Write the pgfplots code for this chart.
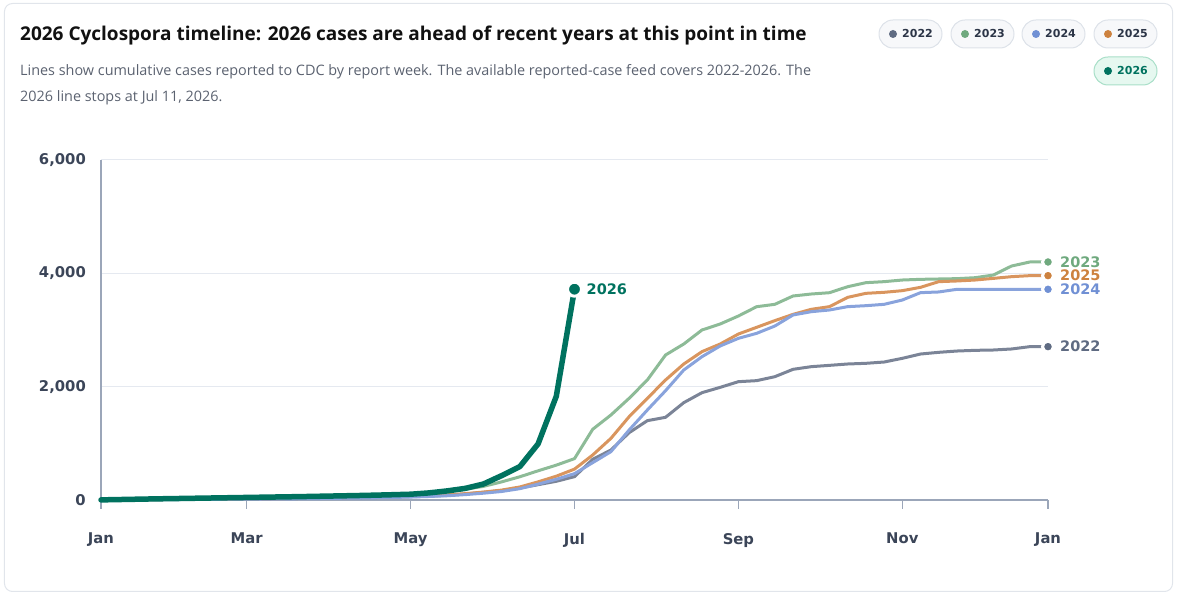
\documentclass[border=0pt]{standalone}
\usepackage{pgfplots}
\pgfplotsset{compat=1.18}
\usepackage{fontspec}
\setmainfont{Open Sans}
\newfontfamily\numfont{DejaVu Sans}

\definecolor{cardline}{HTML}{E1E5EB}
\definecolor{titlecol}{HTML}{111111}
\definecolor{subcol}{HTML}{5B6270}
\definecolor{axcol}{HTML}{9BA6B9}
\definecolor{gridcol}{HTML}{E5E9F0}
\definecolor{tickcol}{HTML}{3B4558}
\definecolor{pillbg}{HTML}{F7F8FA}
\definecolor{pillline}{HTML}{DDE2E9}
\definecolor{pilltext}{HTML}{2C3547}
\definecolor{pillbgsel}{HTML}{E6F8F0}
\definecolor{pilllinesel}{HTML}{A8DFC8}
% series colours: line / dot and label
\definecolor{l22}{HTML}{7B8497}\definecolor{d22}{HTML}{5F6B82}
\definecolor{l23}{HTML}{8DBB97}\definecolor{d23}{HTML}{6FA97E}
\definecolor{l24}{HTML}{89A3DC}\definecolor{d24}{HTML}{7090D4}
\definecolor{l25}{HTML}{D9955E}\definecolor{d25}{HTML}{CD823F}
\definecolor{c26}{HTML}{00725F}

\tikzset{endlabel/.style={anchor=west, inner sep=0pt, xshift=12pt, font=\numfont\fontsize{14.5}{16}\selectfont\bfseries}}

% cumulative cases by report week
\pgfplotstableread{
wk cases
1 2
2 4
3 6
4 8
5 10
6 12
7 14
8 16
9 18
10 21
11 24
12 27
13 30
14 34
15 38
16 43
17 50
18 58
19 68
20 82
21 105
22 135
23 165
24 210
25 270
26 330
27 412
28 718
29 882
30 1188
31 1400
32 1459
33 1718
34 1894
35 1988
36 2088
37 2106
38 2176
39 2306
40 2353
41 2376
42 2400
43 2412
44 2435
45 2500
46 2576
47 2606
48 2629
49 2641
50 2647
51 2665
52 2706
53 2706
}\yrA

\pgfplotstableread{
wk cases
1 3
2 6
3 9
4 12
5 15
6 18
7 22
8 26
9 30
10 34
11 39
12 44
13 50
14 57
15 65
16 75
17 88
18 103
19 125
20 150
21 190
22 240
23 320
24 410
25 515
26 615
27 730
28 1248
29 1500
30 1795
31 2118
32 2559
33 2753
34 3000
35 3106
36 3247
37 3411
38 3453
39 3600
40 3635
41 3658
42 3764
43 3835
44 3853
45 3882
46 3894
47 3900
48 3906
49 3923
50 3970
51 4129
52 4200
53 4200
}\yrB

\pgfplotstableread{
wk cases
1 1
2 2
3 4
4 6
5 8
6 10
7 12
8 14
9 16
10 18
11 20
12 23
13 26
14 30
15 34
16 39
17 45
18 52
19 62
20 75
21 95
22 120
23 150
24 200
25 280
26 365
27 465
28 659
29 853
30 1235
31 1588
32 1929
33 2294
34 2529
35 2718
36 2853
37 2941
38 3070
39 3265
40 3323
41 3353
42 3412
43 3429
44 3453
45 3529
46 3659
47 3671
48 3718
49 3718
50 3718
51 3718
52 3718
53 3718
}\yrC

\pgfplotstableread{
wk cases
1 2
2 4
3 6
4 8
5 10
6 12
7 14
8 17
9 20
10 23
11 26
12 30
13 34
14 38
15 43
16 49
17 56
18 64
19 75
20 90
21 112
22 140
23 175
24 230
25 320
26 420
27 545
28 794
29 1088
30 1470
31 1794
32 2118
33 2400
34 2618
35 2753
36 2929
37 3047
38 3165
39 3276
40 3365
41 3412
42 3576
43 3647
44 3665
45 3694
46 3753
47 3853
48 3865
49 3882
50 3911
51 3941
52 3959
53 3959
}\yrD

\pgfplotstableread{
wk cases
1 2
2 8
3 14
4 20
5 25
6 30
7 35
8 40
9 45
10 50
11 55
12 60
13 66
14 72
15 78
16 85
17 93
18 102
19 125
20 160
21 205
22 282
23 430
24 590
25 990
26 1830
27 3720
}\yrE

\begin{document}
\begin{tikzpicture}[x=1pt,y=1pt]
\begin{axis}[
  scale only axis, width=947pt, height=340pt,
  xmin=1, xmax=53, ymin=0, ymax=6000,
  clip=false,
  axis lines=left,
  axis line style={-},
  x axis line style={draw=axcol, line width=2pt},
  y axis line style={draw=axcol, line width=1.5pt},
  xtick={1,9,18,27,36,45,53},
  xticklabels={Jan,Mar,May,Jul,Sep,Nov,Jan},
  ytick={0,2000,4000,6000},
  yticklabels={0,{2,000},{4,000},{6,000}},
  tick align=outside,
  major tick length=9pt,
  xtick style={draw=axcol, line width=1.5pt},
  ytick style={draw=none},
  ymajorgrids,
  major grid style={draw=gridcol, line width=1pt},
  tick label style={text=tickcol, font=\numfont\fontsize{14.8}{16}\selectfont\bfseries},
  xticklabel style={anchor=north, inner sep=0pt, yshift=-24pt},
  yticklabel style={anchor=east, inner sep=0pt, xshift=-6pt},
  every axis plot/.append style={line join=round, line cap=round},
]
\addplot[l22, line width=3pt, mark=*, mark indices={53},
  mark options={fill=d22, draw=white, line width=3pt}, mark size=5.5pt] table[x=wk,y=cases] {\yrA};
\addplot[l23, line width=3pt, mark=*, mark indices={53},
  mark options={fill=d23, draw=white, line width=3pt}, mark size=5.5pt] table[x=wk,y=cases] {\yrB};
\addplot[l25, line width=3pt, mark=*, mark indices={53},
  mark options={fill=d25, draw=white, line width=3pt}, mark size=5.5pt] table[x=wk,y=cases] {\yrD};
\addplot[l24, line width=3pt, mark=*, mark indices={53},
  mark options={fill=d24, draw=white, line width=3pt}, mark size=5.5pt] table[x=wk,y=cases] {\yrC};
\addplot[c26, line width=5.5pt, mark=*, mark indices={27},
  mark options={fill=c26, draw=white, line width=3pt}, mark size=7pt] table[x=wk,y=cases] {\yrE};

\node[endlabel, text=d23] at (axis cs:53,4200) {2023};
\node[endlabel, text=d25] at (axis cs:53,3959) {2025};
\node[endlabel, text=d24] at (axis cs:53,3718) {2024};
\node[endlabel, text=d22] at (axis cs:53,2706) {2022};
\node[endlabel, text=c26] at (axis cs:27,3720) {2026};
\coordinate (corner) at (axis cs:1,0);
\end{axis}

% page furniture, laid out from the plot corner
\begin{scope}[shift={(corner)}, xshift=-101pt, yshift=-96pt]
\draw[draw=cardline, line width=1pt, rounded corners=8pt] (4.5,4.5) rectangle (1172.5,592.5);

% heading
\node[anchor=base west, inner sep=0pt, text=titlecol, font=\fontsize{19}{23}\selectfont\bfseries]
  at (20,555) {2026 Cyclospora timeline: 2026 cases are ahead of recent years at this point in time};
\node[anchor=base west, inner sep=0pt, text=subcol, font=\fontsize{14.4}{18}\selectfont]
  at (20,520) {Lines show cumulative cases reported to CDC by report week. The available reported-case feed covers 2022-2026. The};
\node[anchor=base west, inner sep=0pt, text=subcol, font=\fontsize{14.4}{18}\selectfont]
  at (20,494) {2026 line stops at Jul 11, 2026.};

% legend pills
\foreach \xl/\yc/\col/\lab in {879/562/d22/2022, 951/562/d23/2023, 1022/562/d24/2024, 1094/562/d25/2025}{
  \draw[draw=pillline, fill=pillbg, line width=1pt, rounded corners=14pt] (\xl,\yc-14) rectangle (\xl+63,\yc+14);
  \fill[\col] (\xl+14,\yc) circle (4);
  \node[anchor=west, inner sep=0pt, text=pilltext, font=\numfont\fontsize{11}{13}\selectfont\bfseries] at (\xl+23,\yc) {\lab};
}
\draw[draw=pilllinesel, fill=pillbgsel, line width=1pt, rounded corners=14pt] (1094,511) rectangle (1157,539);
\fill[c26] (1108,525) circle (4);
\node[anchor=west, inner sep=0pt, text=c26, font=\numfont\fontsize{11}{13}\selectfont\bfseries] at (1117,525) {2026};

\pgfresetboundingbox
\useasboundingbox (0,0) rectangle (1177,596);
\end{scope}
\end{tikzpicture}
\end{document}
